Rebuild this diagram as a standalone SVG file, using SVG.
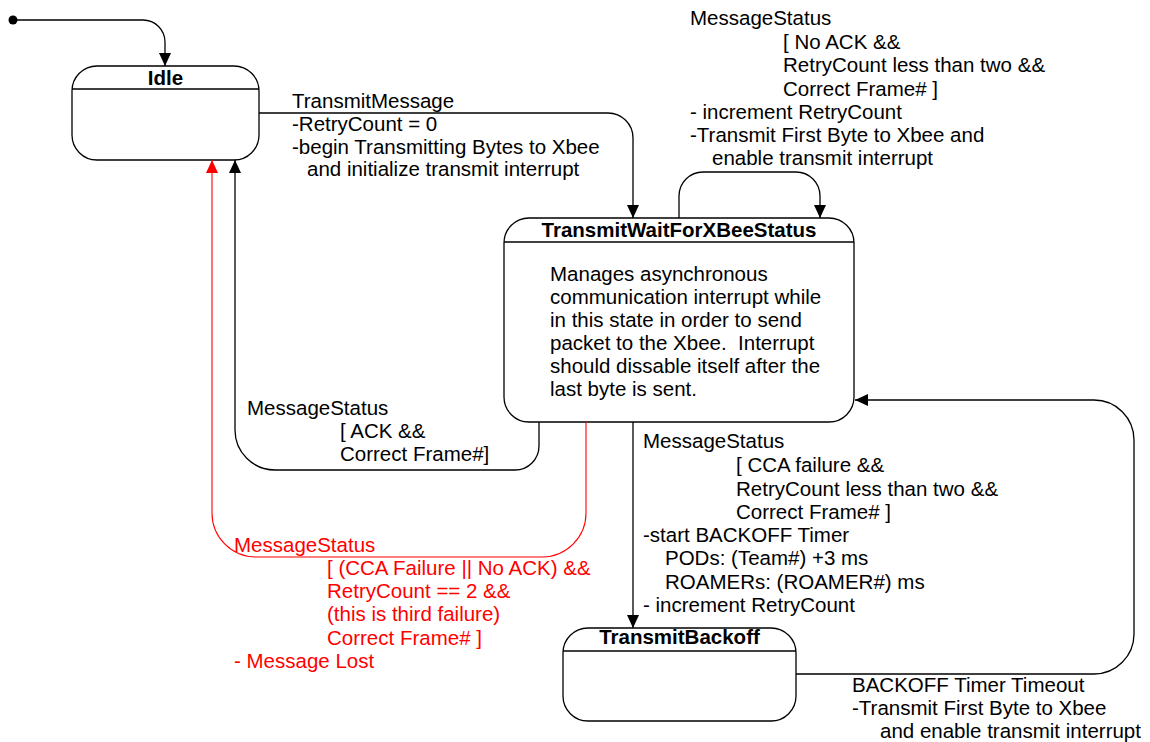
<svg xmlns="http://www.w3.org/2000/svg" width="1150" height="742" viewBox="0 0 1150 742">
<style>
  .state { fill: #fff; stroke: #000; stroke-width: 1.3; }
  .div { stroke: #000; stroke-width: 1.3; }
  .title { font-family: "Liberation Sans", Arial, sans-serif; font-size: 20.5px; font-weight: bold; fill: #000; text-anchor: middle; }
  .body { font-family: "Liberation Sans", Arial, sans-serif; font-size: 20.5px; fill: #000; }
  .lbl { font-family: "Liberation Sans", Arial, sans-serif; font-size: 20.5px; fill: #000; }
  .red { fill: #ff0000; }
  .edge { fill: none; stroke: #000; stroke-width: 1.3; }
  .edge-red { fill: none; stroke: #ff0000; stroke-width: 1.1; }
</style>
<defs>
  <marker id="arrow" markerUnits="userSpaceOnUse" markerWidth="13" markerHeight="12" refX="13" refY="6" orient="auto">
    <path d="M0,0 L13,6 L0,12 z" fill="#000"/>
  </marker>
  <marker id="arrow-red" markerUnits="userSpaceOnUse" markerWidth="13" markerHeight="12" refX="13" refY="6" orient="auto">
    <path d="M0,0 L13,6 L0,12 z" fill="#ff0000"/>
  </marker>
</defs>
<rect width="1150" height="742" fill="#fff"/>

<g id="node-initial">
  <circle cx="13" cy="20" r="4.5" fill="#000"/>
</g>

<g id="node-idle">
  <rect class="state" x="72" y="66" width="187" height="94" rx="25" ry="25"/>
  <line class="div" x1="72" y1="89" x2="259" y2="89"/>
  <text class="title" x="165.5" y="85">Idle</text>
</g>

<g id="node-transmitwait">
  <rect class="state" x="504" y="218" width="350" height="204" rx="25" ry="25"/>
  <line class="div" x1="504" y1="242" x2="854" y2="242"/>
  <text class="title" x="679" y="236.5">TransmitWaitForXBeeStatus</text>
  <text class="body" x="550" y="281">Manages asynchronous</text>
  <text class="body" x="550" y="304">communication interrupt while</text>
  <text class="body" x="550" y="327">in this state in order to send</text>
  <text class="body" x="550" y="350" xml:space="preserve">packet to the Xbee.  Interrupt</text>
  <text class="body" x="550" y="373">should dissable itself after the</text>
  <text class="body" x="550" y="396">last byte is sent.</text>
</g>

<g id="node-backoff">
  <rect class="state" x="563" y="628" width="233" height="93" rx="25" ry="25"/>
  <line class="div" x1="563" y1="651" x2="796" y2="651"/>
  <text class="title" x="679.5" y="644">TransmitBackoff</text>
</g>

<g id="connectors">
  <path class="edge" d="M13,20 H143 A22,22 0 0 1 165,42 V66" marker-end="url(#arrow)"/>
  <path class="edge" d="M259,113 H608 A25,25 0 0 1 633,138 V218" marker-end="url(#arrow)"/>
  <path class="edge" d="M679,218 V196 A24,24 0 0 1 703,172 H796 A24,24 0 0 1 820,196 V218" marker-end="url(#arrow)"/>
  <path class="edge" d="M633,422 V628" marker-end="url(#arrow)"/>
  <path class="edge" d="M796,674 H1094 A40,40 0 0 0 1134,634 V440 A40,40 0 0 0 1094,400 H855" marker-end="url(#arrow)"/>
  <path class="edge" d="M539,422 V446 A24,24 0 0 1 515,470 H275 A40,40 0 0 1 235,430 V160" marker-end="url(#arrow)"/>
  <path class="edge-red" d="M586,422 V513 A44,44 0 0 1 542,557 H256 A44,44 0 0 1 212,513 V160" marker-end="url(#arrow-red)"/>

  <g id="label-transmitmessage">
    <text class="lbl" x="292" y="107.5">TransmitMessage</text>
    <text class="lbl" x="292" y="130.5">-RetryCount = 0</text>
    <text class="lbl" x="292" y="153.5">-begin Transmitting Bytes to Xbee</text>
    <text class="lbl" x="307" y="176">and initialize transmit interrupt</text>
  </g>
  <g id="label-selfloop">
    <text class="lbl" x="690" y="25">MessageStatus</text>
    <text class="lbl" x="783" y="48.5">[ No ACK &amp;&amp;</text>
    <text class="lbl" x="783" y="72">RetryCount less than two &amp;&amp;</text>
    <text class="lbl" x="783" y="95.5">Correct Frame# ]</text>
    <text class="lbl" x="690" y="118.5">- increment RetryCount</text>
    <text class="lbl" x="690" y="141.5">-Transmit First Byte to Xbee and</text>
    <text class="lbl" x="712" y="164.5">enable transmit interrupt</text>
  </g>
  <g id="label-ack">
    <text class="lbl" x="247" y="415">MessageStatus</text>
    <text class="lbl" x="340" y="438">[ ACK &amp;&amp;</text>
    <text class="lbl" x="340" y="461">Correct Frame#]</text>
  </g>
  <g id="label-lost">
    <text class="lbl red" x="234" y="552">MessageStatus</text>
    <text class="lbl red" x="327" y="575">[ (CCA Failure || No ACK) &amp;&amp;</text>
    <text class="lbl red" x="327" y="598">RetryCount == 2 &amp;&amp;</text>
    <text class="lbl red" x="327" y="621">(this is third failure)</text>
    <text class="lbl red" x="327" y="644.5">Correct Frame# ]</text>
    <text class="lbl red" x="234" y="667.5">- Message Lost</text>
  </g>
  <g id="label-backoff">
    <text class="lbl" x="643" y="448">MessageStatus</text>
    <text class="lbl" x="736" y="472">[ CCA failure &amp;&amp;</text>
    <text class="lbl" x="736" y="495.5">RetryCount less than two &amp;&amp;</text>
    <text class="lbl" x="736" y="519">Correct Frame# ]</text>
    <text class="lbl" x="643" y="542">-start BACKOFF Timer</text>
    <text class="lbl" x="665" y="565">PODs: (Team#) +3 ms</text>
    <text class="lbl" x="665" y="589">ROAMERs: (ROAMER#) ms</text>
    <text class="lbl" x="643" y="612">- increment RetryCount</text>
  </g>
  <g id="label-timeout">
    <text class="lbl" x="852" y="692">BACKOFF Timer Timeout</text>
    <text class="lbl" x="852" y="715">-Transmit First Byte to Xbee</text>
    <text class="lbl" x="880" y="738">and enable transmit interrupt</text>
  </g>
</g>
</svg>
